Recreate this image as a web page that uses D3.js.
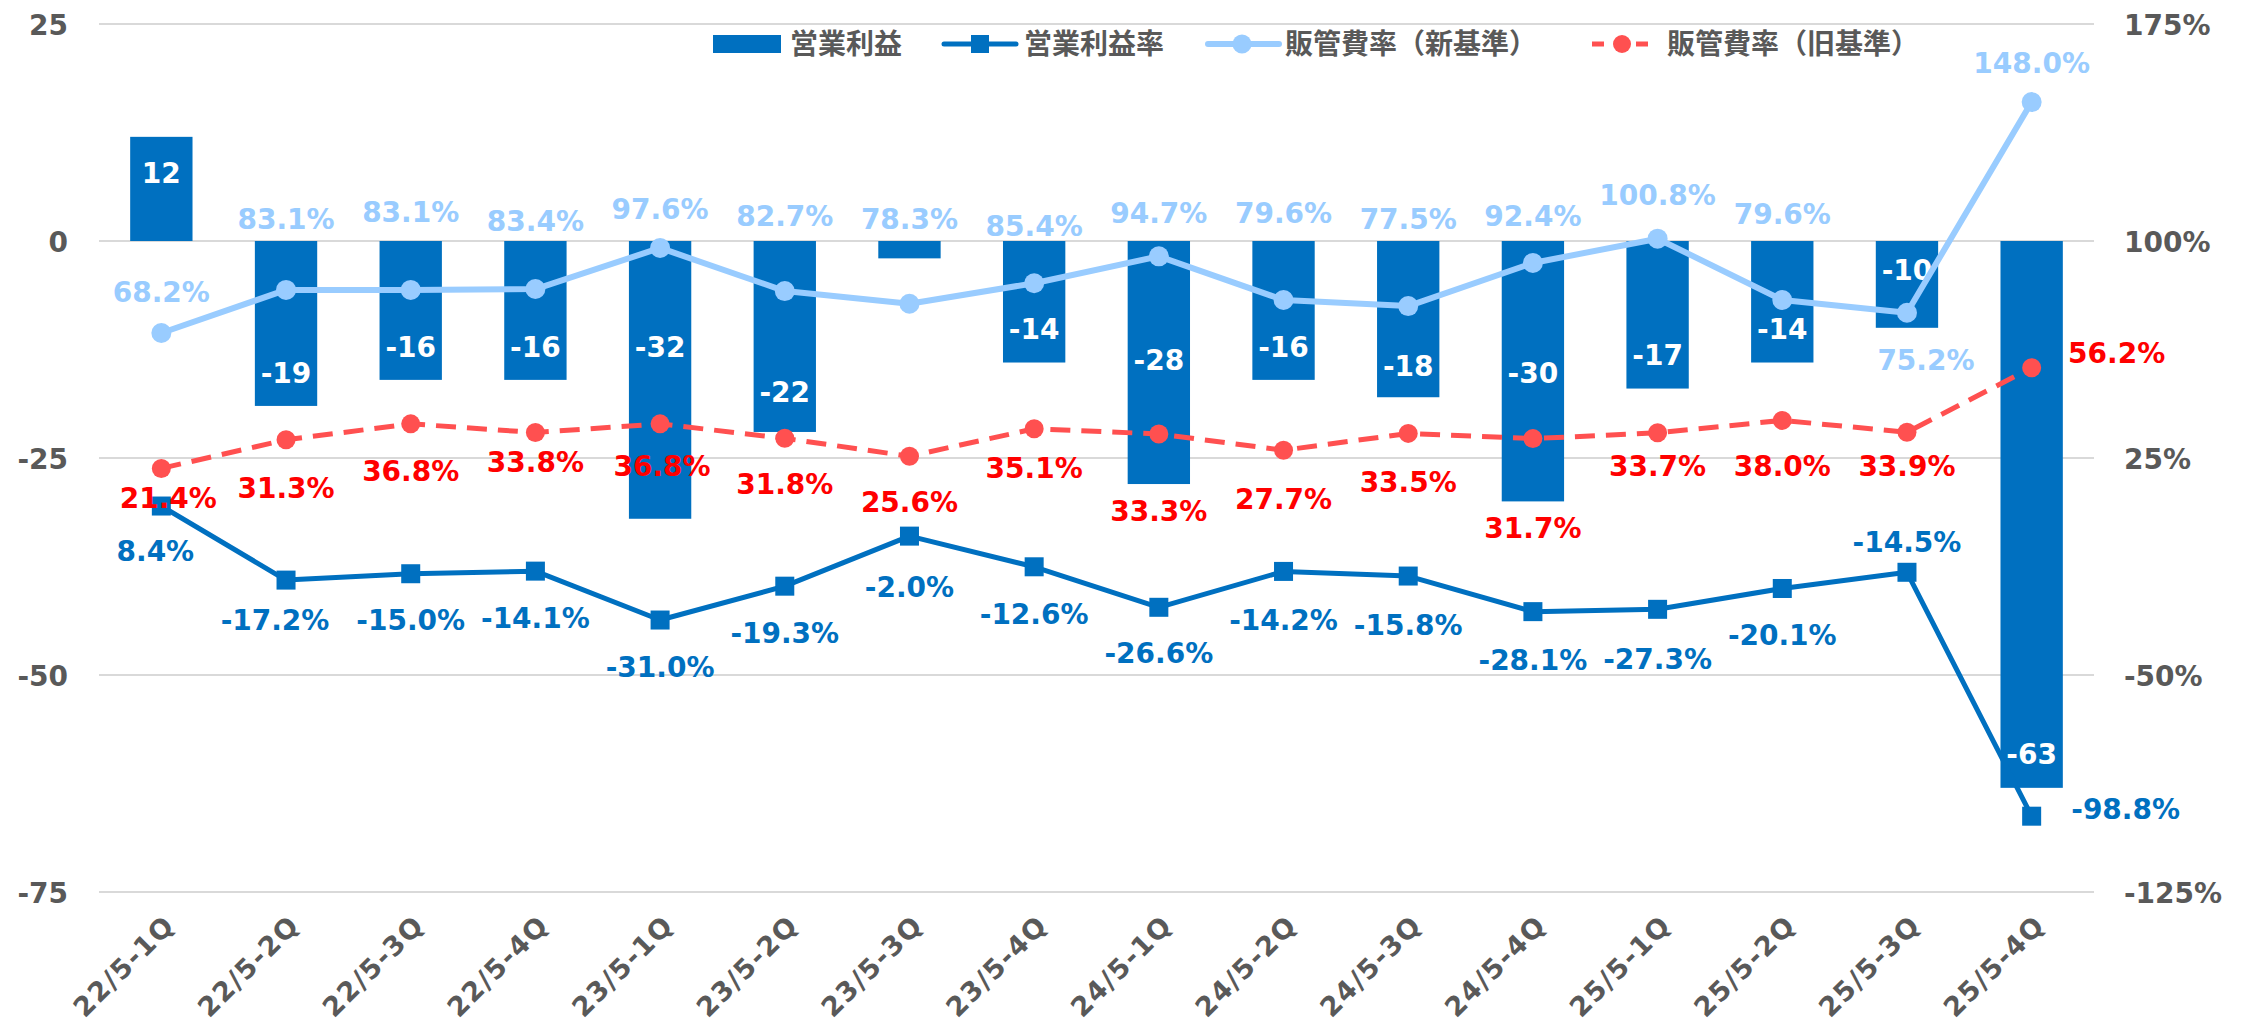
<!DOCTYPE html>
<html>
<head>
<meta charset="utf-8">
<script src="https://cdn.jsdelivr.net/npm/d3@7"></script>
<style>
  html, body { margin: 0; padding: 0; background: #ffffff; }
  svg { display: block; }
</style>
</head>
<body>
<svg id="chart" width="2257" height="1030"></svg>
<script>
// ---------- DATA ----------
const categories = ["22/5-1Q","22/5-2Q","22/5-3Q","22/5-4Q","23/5-1Q","23/5-2Q","23/5-3Q","23/5-4Q",
                    "24/5-1Q","24/5-2Q","24/5-3Q","24/5-4Q","25/5-1Q","25/5-2Q","25/5-3Q","25/5-4Q"];
const operatingProfit = [12, -19, -16, -16, -32, -22, -2, -14, -28, -16, -18, -30, -17, -14, -10, -63];
const operatingMargin = [8.4, -17.2, -15.0, -14.1, -31.0, -19.3, -2.0, -12.6, -26.6, -14.2, -15.8, -28.1, -27.3, -20.1, -14.5, -98.8];
const sgaRatioNew = [68.2, 83.1, 83.1, 83.4, 97.6, 82.7, 78.3, 85.4, 94.7, 79.6, 77.5, 92.4, 100.8, 79.6, 75.2, 148.0];
const sgaRatioOld = [21.4, 31.3, 36.8, 33.8, 36.8, 31.8, 25.6, 35.1, 33.3, 27.7, 33.5, 31.7, 33.7, 38.0, 33.9, 56.2];
const leftTicks = [-75, -50, -25, 0, 25];
const rightTicks = [-125, -50, 25, 100, 175];
const seriesNames = ["営業利益", "営業利益率", "販管費率（新基準）", "販管費率（旧基準）"];

// ---------- LABEL PLACEMENT (pixel offsets from each mark) ----------
const barLabelDy = [36, -33, -33, -33, -172, -40, 17, -34, -124, -33, -31, -128, -34, -34, -58, -34];
const marginLabelOff = [[-6,45],[-11,40],[0,46],[0,47],[0,47],[0,47],[0,51],[0,47],[0,46],[0,49],[0,49],[0,48],[0,50],[0,46],[0,-30],[94,-7]];
const newLabelOff = [[0,-41],[0,-71],[0,-78],[0,-68],[0,-39],[0,-75],[0,-85],[0,-57],[0,-43],[0,-87],[0,-87],[0,-47],[0,-44],[0,-86],[19,47],[0,-39]];
const oldLabelOff = [[7,30],[0,48],[0,47],[0,29.5],[2,42],[0,46],[0,46],[0,39],[0,77],[0,49],[0,49],[0,89],[0,33],[0,46],[0,34],[85,-15]];

// ---------- STYLE ----------
const C_BAR = "#0070C0", C_MARGIN = "#0070C0", C_NEW = "#99CCFF", C_OLD_LINE = "#FF5050", C_OLD_LABEL = "#FF0000";
const C_AXIS = "#595959", C_GRID = "#D9D9D9";
const NUM_FONT = "'DejaVu Sans', Verdana, sans-serif";
const JP_FONT = "'Noto Sans CJK JP', 'Noto Sans', sans-serif";

const loc = d3.formatLocale({ decimal: ".", thousands: ",", grouping: [3], currency: ["", ""], minus: "-" });
const fmtInt = loc.format("d");
const fmtPct = loc.format(".1f");

const svg = d3.select("#chart");
const plot = { left: 99, right: 2094, top: 24, bottom: 892 };

const x = d3.scaleBand().domain(categories).range([plot.left, plot.right]).padding(0);
const bw = x.bandwidth();
const cx = c => x(c) + bw / 2;
const yL = d3.scaleLinear().domain([-75, 25]).range([plot.bottom, plot.top]);
const yR = d3.scaleLinear().domain([-125, 175]).range([plot.bottom, plot.top]);

// gridlines
svg.append("g").selectAll("line").data(leftTicks).join("line")
  .attr("x1", plot.left).attr("x2", plot.right)
  .attr("y1", d => yL(d)).attr("y2", d => yL(d))
  .attr("stroke", C_GRID).attr("stroke-width", 2);

// left axis
const axL = d3.axisLeft(yL).tickValues(leftTicks).tickSize(0).tickPadding(0).tickFormat(fmtInt);
const gL = svg.append("g").attr("transform", "translate(68,0)").call(axL);
gL.select(".domain").remove();
gL.selectAll("text").attr("font-family", NUM_FONT).attr("font-weight", "bold")
  .attr("font-size", 28).attr("fill", C_AXIS).attr("text-anchor", "end").attr("dy", "0.36em");

// right axis
const axR = d3.axisRight(yR).tickValues(rightTicks).tickSize(0).tickPadding(0).tickFormat(d => fmtInt(d) + "%");
const gR = svg.append("g").attr("transform", "translate(2124,0)").call(axR);
gR.select(".domain").remove();
gR.selectAll("text").attr("font-family", NUM_FONT).attr("font-weight", "bold")
  .attr("font-size", 28).attr("fill", C_AXIS).attr("text-anchor", "start").attr("dy", "0.36em");

// x axis labels
const axX = d3.axisBottom(x).tickSize(0).tickPadding(0);
const gX = svg.append("g").attr("transform", `translate(0,${plot.bottom})`).call(axX);
gX.select(".domain").remove();
gX.selectAll("text")
  .attr("font-family", NUM_FONT).attr("font-weight", "bold").attr("font-size", 27)
  .attr("letter-spacing", 1.5)
  .attr("fill", C_AXIS).attr("text-anchor", "end").attr("dy", 0)
  .attr("transform", "translate(15,35) rotate(-45)");

// bars
const barW = bw * 0.5;
svg.append("g").selectAll("rect").data(operatingProfit).join("rect")
  .attr("x", (d, i) => cx(categories[i]) - barW / 2)
  .attr("width", barW)
  .attr("y", d => Math.min(yL(d), yL(0)))
  .attr("height", d => Math.abs(yL(d) - yL(0)))
  .attr("fill", C_BAR);

// bar labels
svg.append("g").selectAll("text").data(operatingProfit).join("text")
  .attr("x", (d, i) => cx(categories[i]))
  .attr("y", (d, i) => yL(d) + barLabelDy[i])
  .attr("dy", "0.36em")
  .attr("text-anchor", "middle")
  .attr("font-family", NUM_FONT).attr("font-weight", "bold").attr("font-size", 28)
  .attr("fill", "#FFFFFF")
  .text(d => fmtInt(d));

// lines
const lineGen = scale => d3.line().x((d, i) => cx(categories[i])).y(d => scale(d));

// old SG&A (dashed red)
svg.append("path").datum(sgaRatioOld).attr("d", lineGen(yR))
  .attr("fill", "none").attr("stroke", C_OLD_LINE).attr("stroke-width", 5)
  .attr("stroke-dasharray", "20,11").attr("stroke-linejoin", "round");
svg.append("g").selectAll("circle").data(sgaRatioOld).join("circle")
  .attr("cx", (d, i) => cx(categories[i])).attr("cy", d => yR(d)).attr("r", 9.5)
  .attr("fill", C_OLD_LINE);

// new SG&A (light blue)
svg.append("path").datum(sgaRatioNew).attr("d", lineGen(yR))
  .attr("fill", "none").attr("stroke", C_NEW).attr("stroke-width", 6).attr("stroke-linejoin", "round");
svg.append("g").selectAll("circle").data(sgaRatioNew).join("circle")
  .attr("cx", (d, i) => cx(categories[i])).attr("cy", d => yR(d)).attr("r", 10)
  .attr("fill", C_NEW);

// operating margin (dark blue)
svg.append("path").datum(operatingMargin).attr("d", lineGen(yR))
  .attr("fill", "none").attr("stroke", C_MARGIN).attr("stroke-width", 5).attr("stroke-linejoin", "round");
const sq = 19;
svg.append("g").selectAll("rect").data(operatingMargin).join("rect")
  .attr("x", (d, i) => cx(categories[i]) - sq / 2).attr("y", d => yR(d) - sq / 2)
  .attr("width", sq).attr("height", sq).attr("fill", C_MARGIN);

// line labels
function lineLabels(data, offs, color) {
  svg.append("g").selectAll("text").data(data).join("text")
    .attr("x", (d, i) => cx(categories[i]) + offs[i][0])
    .attr("y", (d, i) => yR(d) + offs[i][1])
    .attr("dy", "0.36em").attr("text-anchor", "middle")
    .attr("font-family", NUM_FONT).attr("font-weight", "bold").attr("font-size", 28)
    .attr("fill", color)
    .text(d => fmtPct(d) + "%");
}
lineLabels(sgaRatioNew, newLabelOff, C_NEW);
lineLabels(sgaRatioOld, oldLabelOff, C_OLD_LABEL);
lineLabels(operatingMargin, marginLabelOff, C_MARGIN);

// legend
const lg = svg.append("g").attr("font-family", JP_FONT).attr("font-weight", "bold")
  .attr("font-size", 28).attr("fill", C_AXIS);
const ly = 44;
// 1: bar
lg.append("rect").attr("x", 713).attr("y", ly - 9).attr("width", 68).attr("height", 18).attr("fill", C_BAR);
lg.append("text").attr("x", 790).attr("y", ly).attr("dy", "0.35em").text(seriesNames[0]);
// 2: margin line
lg.append("line").attr("x1", 944).attr("x2", 1016).attr("y1", ly).attr("y2", ly)
  .attr("stroke", C_MARGIN).attr("stroke-width", 5).attr("stroke-linecap", "round");
lg.append("rect").attr("x", 980 - 9).attr("y", ly - 9).attr("width", 18).attr("height", 18).attr("fill", C_MARGIN);
lg.append("text").attr("x", 1024).attr("y", ly).attr("dy", "0.35em").text(seriesNames[1]);
// 3: new SG&A
lg.append("line").attr("x1", 1208).attr("x2", 1279).attr("y1", ly).attr("y2", ly)
  .attr("stroke", C_NEW).attr("stroke-width", 6).attr("stroke-linecap", "round");
lg.append("circle").attr("cx", 1242).attr("cy", ly).attr("r", 9.5).attr("fill", C_NEW);
lg.append("text").attr("x", 1285).attr("y", ly).attr("dy", "0.35em").text(seriesNames[2]);
// 4: old SG&A
lg.append("line").attr("x1", 1592).attr("x2", 1655).attr("y1", ly).attr("y2", ly)
  .attr("stroke", C_OLD_LINE).attr("stroke-width", 5).attr("stroke-dasharray", "12,10");
lg.append("circle").attr("cx", 1622).attr("cy", ly).attr("r", 9).attr("fill", C_OLD_LINE);
lg.append("text").attr("x", 1667).attr("y", ly).attr("dy", "0.35em").text(seriesNames[3]);
</script>
</body>
</html>
